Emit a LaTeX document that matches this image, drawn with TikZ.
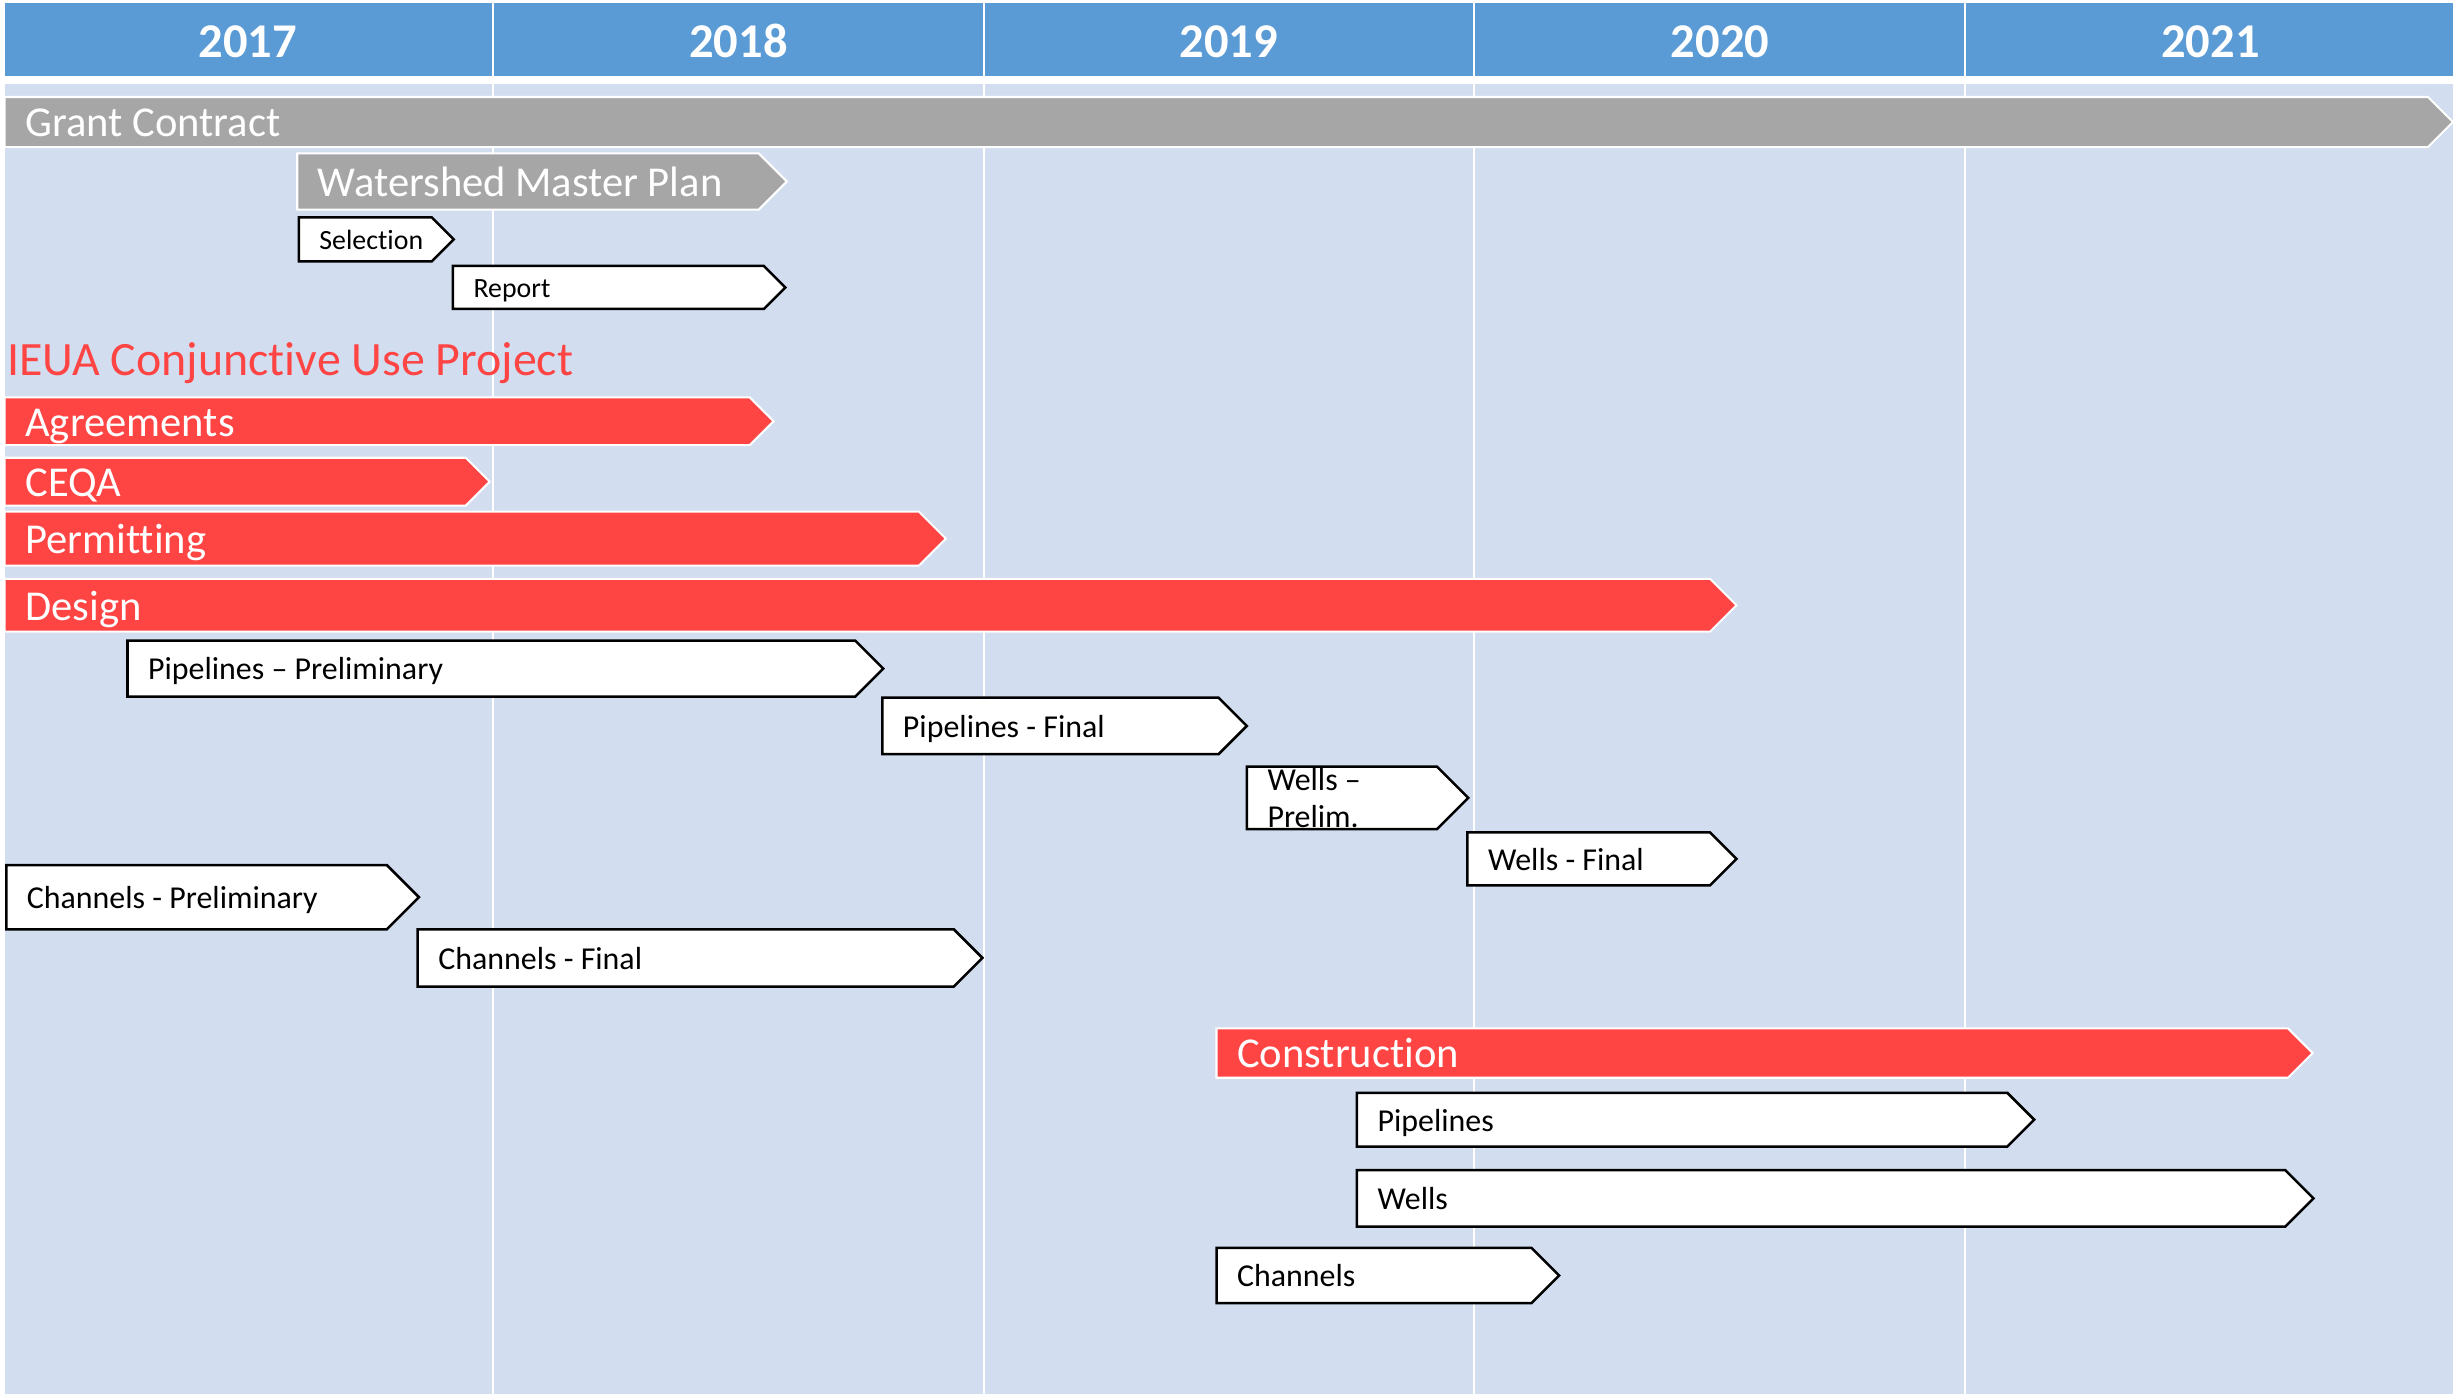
\documentclass[tikz,border=0pt]{standalone}
\usepackage{fontspec}
\setmainfont{Carlito}[RawFeature=-liga]
\definecolor{hdrblue}{HTML}{5B9BD5}
\definecolor{paleblue}{HTML}{D2DEEF}
\definecolor{barred}{HTML}{FF4444}
\definecolor{bargrey}{HTML}{A6A6A6}
\tikzset{
  redbar/.style={fill=barred, draw=white, line width=1.3pt},
  greybar/.style={fill=bargrey, draw=white, line width=1.3pt},
  taskbox/.style={fill=white, draw=black, line width=1.6pt, line join=miter},
  bigtxt/.style={font=\fontsize{27.2}{32}\selectfont, text=white, anchor=west, inner sep=0pt, text height=17.5pt, text depth=0pt},
  midtxt/.style={font=\fontsize{20.4}{24}\selectfont, text=black, anchor=west, inner sep=0pt, text height=13.1pt, text depth=0pt},
  smalltxt/.style={font=\fontsize{17.8}{21}\selectfont, text=black, anchor=west, inner sep=0pt, text height=11.5pt, text depth=0pt},
  yeartxt/.style={font=\fontsize{31}{36}\selectfont\bfseries, text=white, inner sep=0pt, text height=19.6pt, text depth=0pt},
  titletxt/.style={font=\fontsize{30.6}{36}\selectfont, text=barred, anchor=west, inner sep=0pt, text height=19.7pt, text depth=0pt},
  divider/.style={draw=white, line width=1.4pt}
}
% #1 name, #2 bar style, #3 text style, #4 x left, #5 y top, #6 x tip, #7 y bottom, #8 text
\newcommand\chev[8]{%
  \pgfmathsetmacro\chevmid{(#5+#7)/2}%
  \pgfmathsetmacro\chevknee{#6-(#7-#5)/2}%
  \draw[#2] (#4,#5) -- (\chevknee,#5) -- (#6,\chevmid) -- (\chevknee,#7) -- (#4,#7) -- cycle;
  \node[#3] (#1) at (#4+13,\chevmid+0.7) {#8};
}
\begin{document}
\begin{tikzpicture}[x=1pt,y=-1pt]
\useasboundingbox (0,0) rectangle (1568,891);
\fill[white] (0,0) rectangle (1568,891);
% background
\fill[paleblue] (3,54) rectangle (1568,891);
\fill[hdrblue] (3,2) rectangle (1568,48.6);
\foreach \xx in {315,629,942,1256} {
  \draw[divider] (\xx,2) -- (\xx,891);
}
% year headers
\node[yeartxt] (y2017) at (158.5,27.2) {2017};
\node[yeartxt] (y2018) at (472,27.2) {2018};
\node[yeartxt] (y2019) at (785.5,27.2) {2019};
\node[yeartxt] (y2020) at (1099.5,27.2) {2020};
\node[yeartxt] (y2021) at (1413,27.2) {2021};
% grant
\chev{grant}{greybar}{bigtxt}{3}{62}{1568}{94}{Grant Contract}
\chev{wmp}{greybar}{bigtxt}{190}{98}{503}{134}{Watershed Master Plan}
\chev{sel}{taskbox}{smalltxt}{191}{139}{290}{167}{Selection}
\chev{rep}{taskbox}{smalltxt}{289.5}{170}{502}{197.5}{Report}
% IEUA
\node[titletxt] (ieua) at (4.5,230.3) {IEUA Conjunctive Use Project};
\chev{agr}{redbar}{bigtxt}{3}{254}{494.5}{284.5}{Agreements}
\chev{ceqa}{redbar}{bigtxt}{3}{292.6}{313}{323.2}{CEQA}
\chev{perm}{redbar}{bigtxt}{3}{327}{604.6}{361.6}{Permitting}
\chev{design}{redbar}{bigtxt}{3}{370}{1110}{403.8}{Design}
\chev{pipepre}{taskbox}{midtxt}{81.5}{409.5}{564.6}{445.3}{Pipelines – Preliminary}
\chev{pipefin}{taskbox}{midtxt}{564}{446}{797}{482}{Pipelines - Final}
% wells prelim (two lines overflowing)
\draw[taskbox] (797,490) -- (918.5,490) -- (938.5,510) -- (918.5,530) -- (797,530) -- cycle;
\node[font=\fontsize{20.4}{23.4}\selectfont, text=black, anchor=west, inner sep=0pt, align=left] (wellpre) at (810,510.2) {Wells –\\Prelim.};
\chev{wellfin}{taskbox}{midtxt}{938}{532}{1110}{566}{Wells - Final}
\chev{chanpre}{taskbox}{midtxt}{4}{553}{267.8}{594}{Channels - Preliminary}
\chev{chanfin}{taskbox}{midtxt}{267}{594}{628}{630.7}{Channels - Final}
% construction
\chev{constr}{redbar}{bigtxt}{777.6}{657.3}{1478.3}{688.9}{Construction}
\chev{cpipe}{taskbox}{midtxt}{867.4}{698.5}{1300.3}{733}{Pipelines}
\chev{cwell}{taskbox}{midtxt}{867.4}{748}{1478.8}{784}{Wells}
\chev{cchan}{taskbox}{midtxt}{777.6}{797.6}{996.6}{833}{Channels}
\end{tikzpicture}
\end{document}
